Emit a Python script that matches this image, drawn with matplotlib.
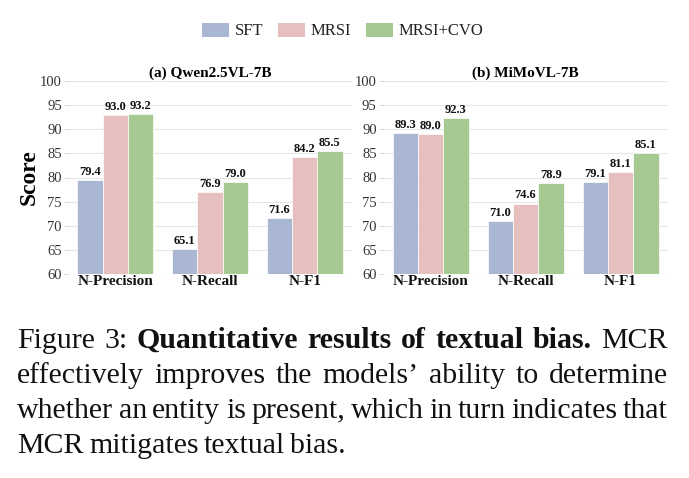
import matplotlib
matplotlib.use('Agg')
import matplotlib.pyplot as plt
import numpy as np
from matplotlib.patches import Patch

# Data
categories = ['N-Precision', 'N-Recall', 'N-F1']
methods = ['SFT', 'MRSI', 'MRSI+CVO']
qwen_scores = [[79.4, 65.1, 71.6],
               [93.0, 76.9, 84.2],
               [93.2, 79.0, 85.5]]
mimo_scores = [[89.3, 71.0, 79.1],
               [89.0, 74.6, 81.1],
               [92.3, 78.9, 85.1]]
panel_titles = ['(a) Qwen2.5VL-7B', '(b) MiMoVL-7B']
y_ticks = [60, 65, 70, 75, 80, 85, 90, 95, 100]

colors = ['#a9b7d3', '#e6bfbf', '#a5c990']

caption_lines = [
    [('Figure', 'normal'), ('3:', 'normal'), ('Quantitative', 'bold'), ('results', 'bold'),
     ('of', 'bold'), ('textual', 'bold'), ('bias.', 'bold'), ('MCR', 'normal')],
    [(w, 'normal') for w in 'effectively improves the models\u2019 ability to determine'.split()],
    [(w, 'normal') for w in 'whether an entity is present, which in turn indicates that'.split()],
    [(w, 'normal') for w in 'MCR mitigates textual bias.'.split()],
]

plt.rcParams['font.family'] = ['Liberation Serif', 'DejaVu Serif']

W, H = 689, 478
fig = plt.figure(figsize=(W / 100, H / 100), dpi=100)


def px_axes(x0, x1, ytop, ybot):
    return fig.add_axes([x0 / W, 1 - ybot / H, (x1 - x0) / W, (ybot - ytop) / H])


axs = [px_axes(68, 352, 81, 274), px_axes(383, 668, 81, 274)]
width = 0.8 / 3
x = np.arange(len(categories))

for ax, scores, title in zip(axs, [qwen_scores, mimo_scores], panel_titles):
    for i, (vals, c) in enumerate(zip(scores, colors)):
        rects = ax.bar(x + (i - 1) * width, vals, width, color=c,
                       edgecolor='white', linewidth=0.5, label=methods[i], zorder=2)
        ax.bar_label(rects, fmt='%.1f', padding=1.5, fontsize=9,
                     fontweight='bold', color='#111111')
    ax.set_ylim(60, 100)
    ax.set_xlim(-0.5, 2.5)
    ax.set_yticks(y_ticks)
    ax.set_xticks(x, categories, fontsize=11, fontweight='bold')
    ax.tick_params(axis='x', length=0, pad=1, colors='#111111')
    ax.tick_params(axis='y', length=3, width=0.6, color='#cccccc', pad=1.5,
                   labelsize=10.5, labelcolor='#333333')
    ax.grid(axis='y', color='#e6e6e6', linewidth=0.8, zorder=0)
    ax.set_axisbelow(True)
    for s in ax.spines.values():
        s.set_visible(False)
    ax.set_title(title, fontsize=11, fontweight='bold', pad=3)

axs[0].set_ylabel('Score', fontsize=17, fontweight='bold', labelpad=0)

handles = [Patch(facecolor=c, label=m) for c, m in zip(colors, methods)]
fig.legend(handles=handles, loc='center', bbox_to_anchor=(343 / W, 1 - 31 / H),
           ncol=3, frameon=False, fontsize=12, handlelength=1.6, handleheight=0.9,
           handletextpad=0.35, columnspacing=0.9, labelcolor='#222222')

# Justified caption, laid out word by word
renderer = fig.canvas.get_renderer()
left, right = 17, 668
baselines = [348, 383, 418, 453]
fsize = 21.5
for li, (words, yb) in enumerate(zip(caption_lines, baselines)):
    texts = [fig.text(0, 1 - yb / H, w, fontsize=fsize, fontweight=wt,
                      va='baseline', ha='left', color='#111111') for w, wt in words]
    widths = [t.get_window_extent(renderer).width for t in texts]
    if li < len(caption_lines) - 1:
        gap = (right - left - sum(widths)) / (len(texts) - 1)
    else:
        gap = fsize * 0.25
    xpos = left
    for t, wd in zip(texts, widths):
        t.set_x(xpos / W)
        xpos += wd + gap

fig.savefig('out.png', dpi=100)
